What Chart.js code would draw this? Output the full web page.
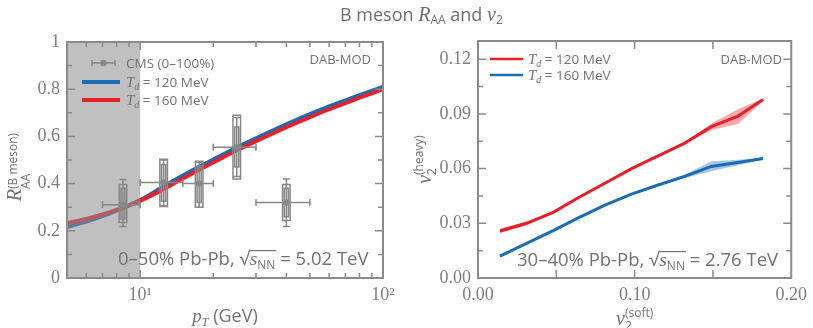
<!DOCTYPE html>
<html>
<head>
<meta charset="utf-8">
<script src="https://cdn.jsdelivr.net/npm/chart.js@4.4.1/dist/chart.umd.min.js"></script>
<style>
  body { margin: 0; background: #fff; width: 813px; height: 328px; overflow: hidden; position: relative; }
  canvas { position: absolute; top: 0; }
  #title { position: absolute; top: 1px; left: 340px; font: 18px/26px "Open Sans", sans-serif; color: #6e6e6e; white-space: nowrap; z-index: 2; }
  #title i { font-family: "Liberation Serif", serif; font-size: 20px; }
  #title sub { font-size: 12px; vertical-align: -3px; }
</style>
</head>
<body>
<div id="title">B meson <i>R</i><sub>AA</sub> and <i>v</i><sub>2</sub></div>
<canvas id="raa" width="406" height="328" style="left:0"></canvas>
<canvas id="v2" width="407" height="328" style="left:406px"></canvas>
<script>
// --- left panel: B meson R_AA vs pT ---
const ptGrid   = [5, 6, 7, 8, 10, 12.5, 15, 17.5, 20, 25, 30, 40, 50, 60, 70, 80, 100];
const raaTd120 = [0.216, 0.239, 0.262, 0.285, 0.330, 0.388, 0.434, 0.471, 0.502, 0.553, 0.592, 0.651, 0.694, 0.727, 0.753, 0.775, 0.810];
const raaTd160 = [0.233, 0.250, 0.269, 0.289, 0.327, 0.377, 0.422, 0.459, 0.490, 0.541, 0.580, 0.639, 0.682, 0.715, 0.741, 0.764, 0.800];

const cmsPt     = [8.5, 12.5, 17.5, 25, 40];
const cmsPtLo   = [7, 10, 15, 20, 30];
const cmsPtHi   = [10, 15, 20, 30, 50];
const cmsRaa    = [0.31, 0.405, 0.40, 0.554, 0.32];
const cmsStatLo = [0.218, 0.305, 0.30, 0.43, 0.218];
const cmsStatHi = [0.417, 0.50, 0.49, 0.68, 0.42];
const cmsSysLo  = [0.235, 0.303, 0.30, 0.42, 0.244];
const cmsSysHi  = [0.396, 0.503, 0.495, 0.69, 0.396];
const cmsSys2Lo = [0.25, 0.325, 0.32, 0.47, 0.26];
const cmsSys2Hi = [0.38, 0.481, 0.475, 0.64, 0.38];

const shadeRange = [5, 10];
const raaXLabels = [10, 100];
const raaXMinor  = [6, 7, 8, 9, 20, 30, 40, 50, 60, 70, 80, 90];
const raaYLabels = [0, 0.2, 0.4, 0.6, 0.8, 1];
const raaYMinor  = [0.1, 0.3, 0.5, 0.7, 0.9];

// --- right panel: v2 heavy vs v2 soft ---
const v2Soft    = [0.014, 0.031, 0.048, 0.064, 0.081, 0.098, 0.115, 0.132, 0.149, 0.166, 0.182];
const v2Td120   = [0.0258, 0.030, 0.036, 0.044, 0.052, 0.060, 0.067, 0.074, 0.083, 0.0888, 0.0979];
const v2Td120Lo = [0.0245, 0.029, 0.0355, 0.0435, 0.0515, 0.0595, 0.0665, 0.0735, 0.0812, 0.0845, 0.0972];
const v2Td120Hi = [0.0272, 0.031, 0.0365, 0.0445, 0.0525, 0.0605, 0.0675, 0.0745, 0.0848, 0.0925, 0.0985];
const v2Td160   = [0.012, 0.019, 0.026, 0.033, 0.040, 0.046, 0.051, 0.0557, 0.0612, 0.0633, 0.0655];
const v2Td160Lo = [0.0112, 0.0185, 0.0255, 0.0325, 0.0395, 0.0455, 0.0505, 0.0548, 0.0585, 0.0618, 0.0650];
const v2Td160Hi = [0.0128, 0.0195, 0.0265, 0.0335, 0.0405, 0.0465, 0.0515, 0.0568, 0.0640, 0.0648, 0.0660];

const v2XLabels = [0, 0.1, 0.2];
const v2XMajor  = [0.05, 0.1, 0.15];
const v2YLabels = [0, 0.03, 0.06, 0.09, 0.12];
const v2YMinor  = [0.015, 0.045, 0.075, 0.105];

const SANS  = '"Open Sans", sans-serif';
const SERIF = '"Liberation Serif", serif';
const INK   = '#727272';
const AXIS  = '#8a8a8a';
const GREY  = '#878787';
const RED   = '#e8202a';
const BLUE  = '#1a6db5';
const TICK_FONT = { family: SERIF, size: 18 };

const pts = (xs, ys) => xs.map((v, i) => ({ x: v, y: ys[i] }));

// text with sub/superscripts; parts = [{t, f, dy, stack}]
function rich(ctx, x, y, parts, align) {
  let w = 0;
  for (const p of parts) { if (!p.stack) { ctx.font = p.f; w += ctx.measureText(p.t).width; } }
  let cx = align === 'center' ? x - w / 2 : align === 'right' ? x - w : x;
  const pos = [];
  for (const p of parts) {
    ctx.font = p.f;
    ctx.fillText(p.t, cx, y + (p.dy || 0));
    const pw = ctx.measureText(p.t).width;
    pos.push([cx, cx + pw]);
    if (!p.stack) cx += pw;
  }
  return pos;
}

function seg(ctx, x1, y1, x2, y2) { ctx.moveTo(x1, y1); ctx.lineTo(x2, y2); }

function frame(chart, xMajor, xMinor, yMajor, yMinor) {
  const { ctx, chartArea: a, scales: { x, y } } = chart;
  ctx.save();
  ctx.strokeStyle = AXIS;
  ctx.lineWidth = 1.5;
  ctx.beginPath();
  const xt = (vals, len) => vals.forEach(v => { const p = x.getPixelForValue(v); seg(ctx, p, a.bottom, p, a.bottom - len); seg(ctx, p, a.top, p, a.top + len); });
  const yt = (vals, len) => vals.forEach(v => { const p = y.getPixelForValue(v); seg(ctx, a.left, p, a.left + len, p); seg(ctx, a.right, p, a.right - len, p); });
  xt(xMajor, 8); xt(xMinor, 5); yt(yMajor, 8); yt(yMinor, 5);
  ctx.stroke();
  ctx.lineWidth = 2;
  ctx.strokeRect(a.left, a.top, a.right - a.left, a.bottom - a.top);
  ctx.restore();
}

function sqrtText(ctx, x, y, pre, sub, post, size) {
  const f = size + 'px ' + SANS;
  const pos = rich(ctx, x, y, [
    { t: pre, f },
    { t: '\u221A', f },
    { t: 's', f: 'italic ' + (size + 1) + 'px ' + SERIF },
    { t: sub, f: Math.round(size * 0.65) + 'px ' + SANS, dy: 4 },
    { t: post, f }
  ], 'left');
  ctx.beginPath();
  ctx.lineWidth = 1.2;
  seg(ctx, pos[1][1] - 1, y - size * 0.78, pos[3][1] + 1, y - size * 0.78);
  ctx.stroke();
}

function tdLabel(ctx, x, y, val) {
  rich(ctx, x, y, [
    { t: 'T', f: 'italic 15px ' + SERIF },
    { t: 'd', f: 'italic 10px ' + SERIF, dy: 3 },
    { t: ' = ' + val + ' MeV', f: '13.5px ' + SANS }
  ], 'left');
}

const leftDecor = {
  id: 'leftDecor',
  beforeDatasetDraw(chart, args) {
    if (chart.data.datasets[args.index].key !== 'cms') return;
    const { ctx, scales: { x, y } } = chart;
    ctx.save();
    ctx.strokeStyle = GREY;
    ctx.lineWidth = 1.5;
    ctx.beginPath();
    cmsPt.forEach((p, i) => {
      const px = x.getPixelForValue(p), py = y.getPixelForValue(cmsRaa[i]);
      const xl = x.getPixelForValue(cmsPtLo[i]), xr = x.getPixelForValue(cmsPtHi[i]);
      seg(ctx, xl, py, xr, py); seg(ctx, xl, py - 3.5, xl, py + 3.5); seg(ctx, xr, py - 3.5, xr, py + 3.5);
      const st = y.getPixelForValue(cmsStatHi[i]), sb = y.getPixelForValue(cmsStatLo[i]);
      seg(ctx, px, st, px, sb); seg(ctx, px - 3.5, st, px + 3.5, st); seg(ctx, px - 3.5, sb, px + 3.5, sb);
      const o1 = y.getPixelForValue(cmsSysHi[i]), o2 = y.getPixelForValue(cmsSysLo[i]);
      ctx.rect(px - 3.8, o1, 7.6, o2 - o1);
      const i1 = y.getPixelForValue(cmsSys2Hi[i]), i2 = y.getPixelForValue(cmsSys2Lo[i]);
      ctx.rect(px - 2, i1, 4, i2 - i1);
    });
    ctx.stroke();
    ctx.restore();
  },
  afterDatasetDraw(chart, args) {
    if (chart.data.datasets[args.index].key !== 'td160') return;
    const { ctx, chartArea: a, scales: { x } } = chart;
    const x1 = x.getPixelForValue(shadeRange[0]), x2 = x.getPixelForValue(shadeRange[1]);
    ctx.save();
    ctx.fillStyle = 'rgba(140,140,140,0.55)';
    ctx.fillRect(x1, a.top, x2 - x1, a.bottom - a.top);
    ctx.restore();
  },
  afterDraw(chart) {
    const { ctx, chartArea: a } = chart;
    frame(chart, raaXLabels, raaXMinor, raaYLabels, raaYMinor);
    ctx.save();
    ctx.fillStyle = INK;
    ctx.strokeStyle = GREY;
    ctx.textBaseline = 'alphabetic';
    // legend
    ctx.lineWidth = 1.5;
    ctx.beginPath();
    seg(ctx, 92, 63, 115, 63); seg(ctx, 92, 60, 92, 66); seg(ctx, 115, 60, 115, 66);
    ctx.stroke();
    ctx.fillStyle = GREY;
    ctx.beginPath(); ctx.arc(103.5, 63, 3.2, 0, Math.PI * 2); ctx.fill();
    ctx.fillStyle = INK;
    ctx.font = '13.5px ' + SANS;
    ctx.fillText('CMS (0\u2013100%)', 126, 68);
    ctx.lineWidth = 4;
    ctx.strokeStyle = BLUE; ctx.beginPath(); seg(ctx, 82, 82, 120, 82); ctx.stroke();
    ctx.strokeStyle = RED;  ctx.beginPath(); seg(ctx, 82, 100, 120, 100); ctx.stroke();
    tdLabel(ctx, 126, 87, 120);
    tdLabel(ctx, 126, 105, 160);
    ctx.font = '13px ' + SANS;
    ctx.textAlign = 'right';
    ctx.fillText('DAB-MOD', 371, 64);
    ctx.textAlign = 'left';
    ctx.strokeStyle = INK;
    sqrtText(ctx, 118, 265, '0\u201350% Pb-Pb, ', 'NN', ' = 5.02 TeV', 18.5);
    // axis titles
    rich(ctx, (a.left + a.right) / 2, 322, [
      { t: 'p', f: 'italic 19px ' + SERIF },
      { t: 'T', f: 'italic 12px ' + SERIF, dy: 4 },
      { t: ' (GeV)', f: '18px ' + SANS }
    ], 'center');
    ctx.translate(21, 167);
    ctx.rotate(-Math.PI / 2);
    rich(ctx, 0, 0, [
      { t: 'R', f: 'italic 20px ' + SERIF },
      { t: 'AA', f: '12px ' + SANS, dy: 9, stack: true },
      { t: '(B meson)', f: '12px ' + SANS, dy: -4 }
    ], 'center');
    ctx.restore();
  }
};

const rightDecor = {
  id: 'rightDecor',
  afterDraw(chart) {
    const { ctx, chartArea: a } = chart;
    frame(chart, v2XMajor, [], v2YLabels, v2YMinor);
    ctx.save();
    ctx.fillStyle = INK;
    ctx.textBaseline = 'alphabetic';
    ctx.lineWidth = 2.5;
    ctx.strokeStyle = RED;  ctx.beginPath(); seg(ctx, 84, 59, 117, 59); ctx.stroke();
    ctx.strokeStyle = BLUE; ctx.beginPath(); seg(ctx, 84, 75, 117, 75); ctx.stroke();
    tdLabel(ctx, 122, 64, 120);
    tdLabel(ctx, 122, 80, 160);
    ctx.font = '13px ' + SANS;
    ctx.textAlign = 'right';
    ctx.fillText('DAB-MOD', 376, 64);
    ctx.textAlign = 'left';
    ctx.strokeStyle = INK;
    sqrtText(ctx, 111, 266, '30\u201340% Pb-Pb, ', 'NN', ' = 2.76 TeV', 18.5);
    rich(ctx, (a.left + a.right) / 2, 325, [
      { t: 'v', f: 'italic 20px ' + SERIF },
      { t: '2', f: '12px ' + SANS, dy: 5, stack: true },
      { t: '(soft)', f: '12px ' + SANS, dy: -8 }
    ], 'center');
    ctx.translate(25, (a.top + a.bottom) / 2);
    ctx.rotate(-Math.PI / 2);
    rich(ctx, 0, 0, [
      { t: 'v', f: 'italic 20px ' + SERIF },
      { t: '2', f: '12px ' + SANS, dy: 5, stack: true },
      { t: '(heavy)', f: '12px ' + SANS, dy: -8 }
    ], 'center');
    ctx.restore();
  }
};

const noGrid = { display: false, drawTicks: false };
const tickStyle = (cb, pad) => ({ font: TICK_FONT, color: '#7e7e7e', padding: pad, maxRotation: 0, autoSkip: false, callback: cb });

new Chart(document.getElementById('raa'), {
  type: 'line',
  data: {
    datasets: [
      { key: 'cms', data: pts(cmsPt, cmsRaa), showLine: false, pointRadius: 3.2, pointBackgroundColor: GREY, pointBorderWidth: 0, order: 0 },
      { key: 'td160', data: pts(ptGrid, raaTd160), borderColor: RED, borderWidth: 4, pointRadius: 0, cubicInterpolationMode: 'monotone', order: 1 },
      { key: 'td120', data: pts(ptGrid, raaTd120), borderColor: BLUE, borderWidth: 4, pointRadius: 0, cubicInterpolationMode: 'monotone', order: 2 }
    ]
  },
  options: {
    responsive: false, animation: false, devicePixelRatio: 1,
    layout: { padding: { top: 42, right: 23, left: 0, bottom: 0 } },
    plugins: { legend: { display: false }, tooltip: { enabled: false } },
    scales: {
      x: {
        type: 'logarithmic', min: 5, max: 100, grid: noGrid, border: { display: false },
        afterBuildTicks: s => { s.ticks = raaXLabels.map(v => ({ value: v })); },
        ticks: tickStyle(v => v === 10 ? '10\u00B9' : v === 100 ? '10\u00B2' : '', 6),
        afterFit: s => { s.height = 50; }
      },
      y: {
        min: 0, max: 1, grid: noGrid, border: { display: false },
        afterBuildTicks: s => { s.ticks = raaYLabels.map(v => ({ value: v })); },
        ticks: tickStyle(v => String(v), 7),
        afterFit: s => { s.width = 67; }
      }
    }
  },
  plugins: [leftDecor]
});

new Chart(document.getElementById('v2'), {
  type: 'line',
  data: {
    datasets: [
      { data: pts(v2Soft, v2Td120Hi), fill: '+1', backgroundColor: 'rgba(232,32,42,0.38)', borderWidth: 0, pointRadius: 0 },
      { data: pts(v2Soft, v2Td120Lo), fill: false, borderWidth: 0, pointRadius: 0 },
      { data: pts(v2Soft, v2Td160Hi), fill: '+1', backgroundColor: 'rgba(26,109,181,0.38)', borderWidth: 0, pointRadius: 0 },
      { data: pts(v2Soft, v2Td160Lo), fill: false, borderWidth: 0, pointRadius: 0 },
      { data: pts(v2Soft, v2Td120), borderColor: RED, borderWidth: 3, pointRadius: 0, fill: false },
      { data: pts(v2Soft, v2Td160), borderColor: BLUE, borderWidth: 3, pointRadius: 0, fill: false }
    ]
  },
  options: {
    responsive: false, animation: false, devicePixelRatio: 1,
    layout: { padding: { top: 41, right: 18, left: 0, bottom: 0 } },
    plugins: { legend: { display: false }, tooltip: { enabled: false } },
    scales: {
      x: {
        type: 'linear', min: 0, max: 0.2, grid: noGrid, border: { display: false },
        afterBuildTicks: s => { s.ticks = v2XLabels.map(v => ({ value: v })); },
        ticks: tickStyle(v => v.toFixed(2), 6),
        afterFit: s => { s.height = 50; }
      },
      y: {
        min: 0, max: 0.13, grid: noGrid, border: { display: false },
        afterBuildTicks: s => { s.ticks = v2YLabels.map(v => ({ value: v })); },
        ticks: tickStyle(v => v.toFixed(2), 7),
        afterFit: s => { s.width = 72; }
      }
    }
  },
  plugins: [rightDecor]
});
</script>
</body>
</html>
